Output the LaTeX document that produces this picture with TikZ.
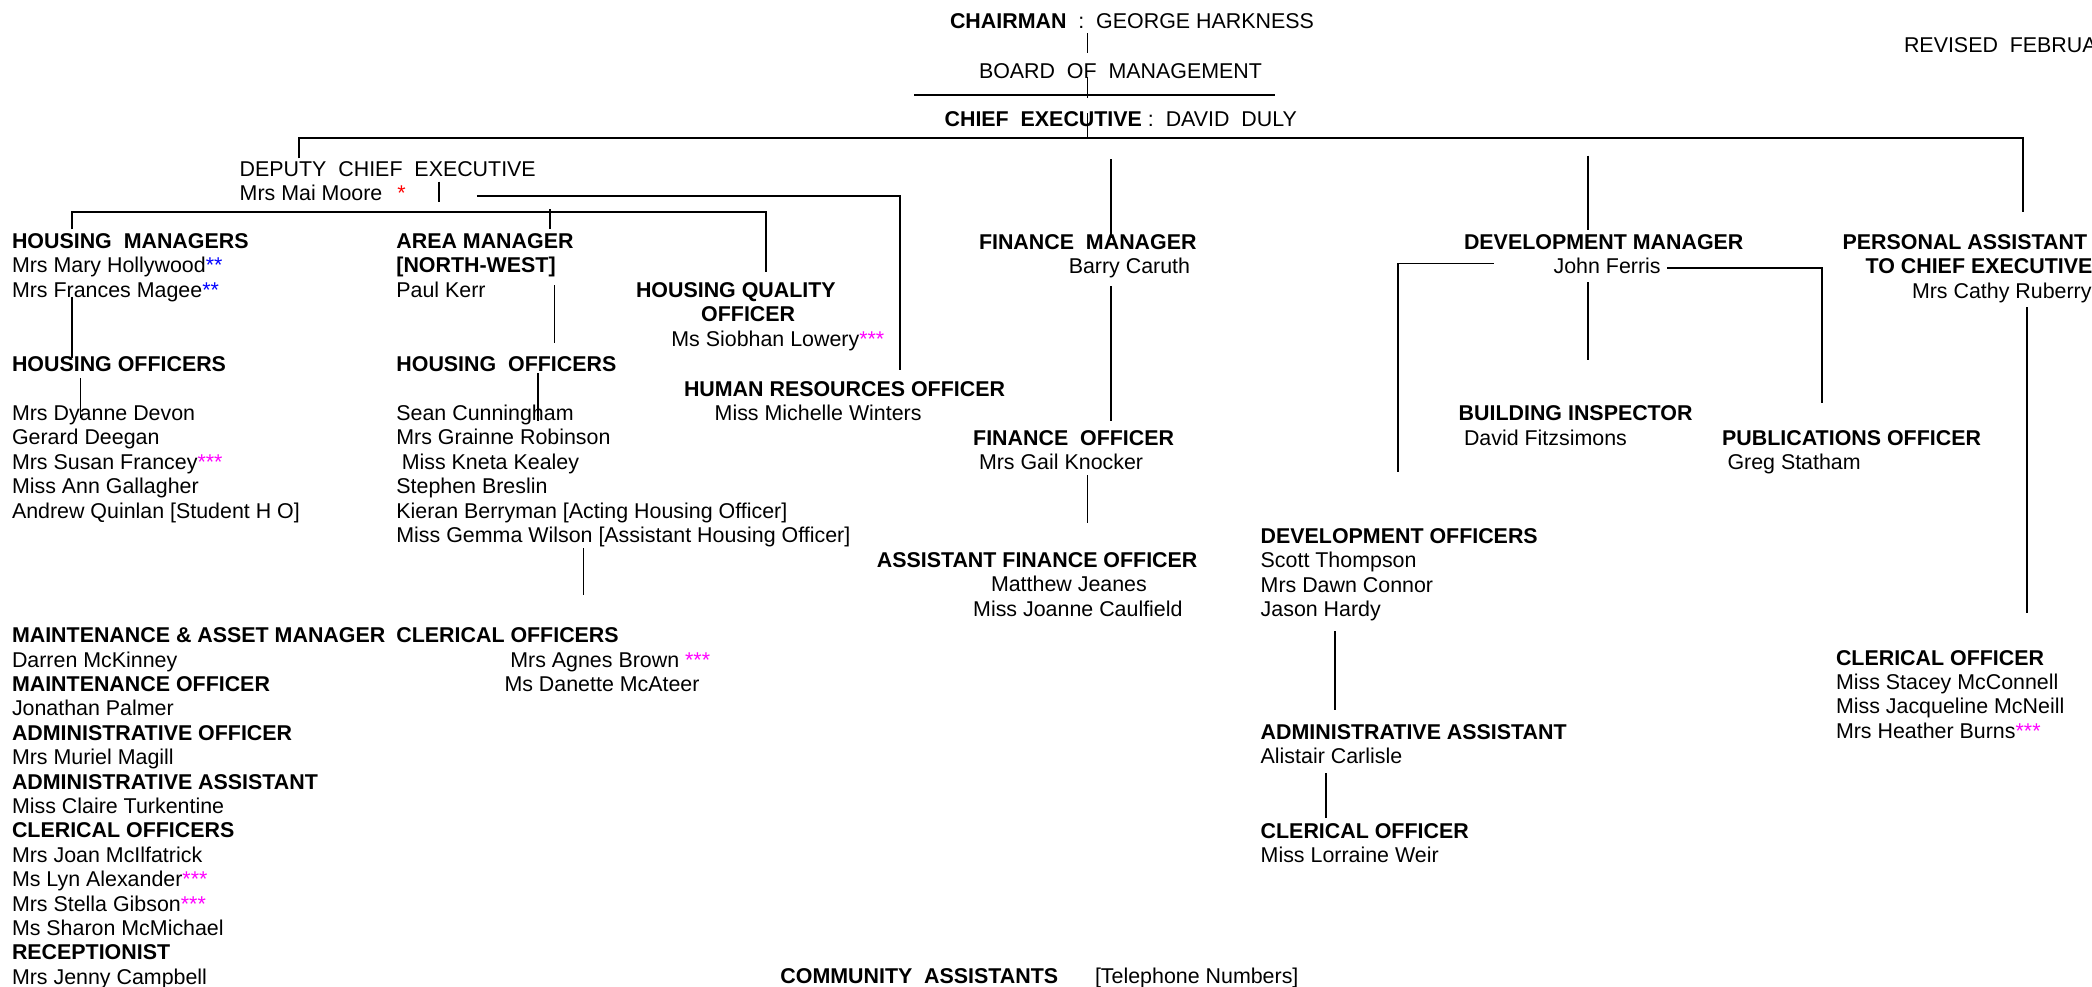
\documentclass[tikz,border=0pt]{standalone}
\usepackage{fontspec}
\setmainfont{Liberation Sans}
\usepackage{xcolor}
\definecolor{starmag}{RGB}{255,0,255}
\definecolor{starblue}{RGB}{0,0,255}
\definecolor{starred}{RGB}{255,0,0}
\newlength\px
\setlength\px{0.5pt}
\newcommand\off[1]{\hspace*{#1\px}}
\newcommand\blk[1]{\begin{tabular}[t]{@{}l@{}}#1\end{tabular}}
\newcommand\mstar[1]{{\color{starmag}#1}}
\tikzset{
  lbl/.style={anchor=base west, inner sep=0pt, outer sep=0pt, font=\fontsize{10.7}{12.2}\selectfont},
  ln/.style={line width=0.9pt},
}
\begin{document}
\begin{tikzpicture}[x=0.5pt,y=-0.5pt]
\useasboundingbox[fill=white] (0,0) rectangle (2092,986);

% ---------- text ----------
\node[lbl] (chair) at (950,28.3) {\textbf{CHAIRMAN}\ \ :\ \ GEORGE HARKNESS};
\node[lbl] (board) at (979,78.3) {BOARD\ \ OF\ \ MANAGEMENT};
\node[lbl] (ceo) at (944.6,126) {\textbf{CHIEF\ \ EXECUTIVE} :\ \ DAVID\ \ DULY};
\node[lbl] (revised) at (1904,52.7) {REVISED\ \ FEBRUA};

\node[lbl] (deputy) at (239.7,176) {\blk{DEPUTY\ \ CHIEF\ \ EXECUTIVE\\ Mrs Mai Moore\hspace{15\px}{\color{starred}*}}};

\node[lbl] (hmgr) at (12,248.3) {\blk{\textbf{HOUSING\ \ MANAGERS}\\ Mrs Mary Hollywood{\color{starblue}**}\\ Mrs Frances Magee{\color{starblue}**}}};
\node[lbl] (areamgr) at (396.4,248.3) {\blk{\textbf{AREA MANAGER}\\ \textbf{[NORTH-WEST]}\\ Paul Kerr}};
\node[lbl] (hqo) at (636,297.3) {\blk{\textbf{HOUSING QUALITY}\\ \off{65.2}\textbf{OFFICER}\\ \off{35.4}Ms Siobhan Lowery\mstar{***}}};
\node[lbl] (hro) at (684,396) {\blk{\textbf{HUMAN RESOURCES OFFICER}\\ \off{30.7}Miss Michelle Winters}};

\node[lbl] (finmgr) at (979,249.3) {\blk{\textbf{FINANCE\ \ MANAGER}\\ \off{89.8}Barry Caruth}};
\node[lbl] (finoff) at (973.2,445) {\blk{\textbf{FINANCE\ \ OFFICER}\\ \off{5.8}Mrs Gail Knocker}};
\node[lbl] (afo) at (876.8,567.3) {\blk{\textbf{ASSISTANT FINANCE OFFICER}\\ \off{114.2}Matthew Jeanes\\ \off{96.4}Miss Joanne Caulfield}};

\node[lbl] (devmgr) at (1464,249.3) {\blk{\textbf{DEVELOPMENT MANAGER}\\ \off{89.6}John Ferris}};
\node[lbl] (pa) at (1842.6,249.3) {\blk{\textbf{PERSONAL ASSISTANT}\\ \off{23}\textbf{TO CHIEF EXECUTIVE}\\ \off{69.4}Mrs Cathy Ruberry}};
\node[lbl] (bi) at (1458.7,420.7) {\blk{\textbf{BUILDING INSPECTOR}\\ \off{5.3}David Fitzsimons}};
\node[lbl] (pub) at (1722.2,445) {\blk{\textbf{PUBLICATIONS OFFICER}\\ \off{5.3}Greg Statham}};
\node[lbl] (devoff) at (1260.7,543.3) {\blk{\textbf{DEVELOPMENT OFFICERS}\\ Scott Thompson\\ Mrs Dawn Connor\\ Jason Hardy}};
\node[lbl] (adminasst) at (1260.7,739.3) {\blk{\textbf{ADMINISTRATIVE ASSISTANT}\\ Alistair Carlisle}};
\node[lbl] (devclerk) at (1260.7,838.3) {\blk{\textbf{CLERICAL OFFICER}\\ Miss Lorraine Weir}};
\node[lbl] (paclerk) at (1836,665) {\blk{\textbf{CLERICAL OFFICER}\\ Miss Stacey McConnell\\ Miss Jacqueline McNeill\\ Mrs Heather Burns\mstar{***}}};

\node[lbl] (hoffL) at (12,371.7) {\blk{\textbf{HOUSING OFFICERS}\\ \\ Mrs Dyanne Devon\\ Gerard Deegan\\ Mrs Susan Francey\mstar{***}\\ Miss Ann Gallagher\\ Andrew Quinlan [Student H O]}};
\node[lbl] (hoffR) at (396.4,371.7) {\blk{\textbf{HOUSING\ \ OFFICERS}\\ \\ Sean Cunningham\\ Mrs Grainne Robinson\\ \off{5.4}Miss Kneta Kealey\\ Stephen Breslin\\ Kieran Berryman [Acting Housing Officer]\\ Miss Gemma Wilson [Assistant Housing Officer]}};

\node[lbl] (maint) at (12,642.7) {\blk{\textbf{MAINTENANCE \& ASSET MANAGER}\\ Darren McKinney\\ \textbf{MAINTENANCE OFFICER}\\ Jonathan Palmer\\ \textbf{ADMINISTRATIVE OFFICER}\\ Mrs Muriel Magill\\ \textbf{ADMINISTRATIVE ASSISTANT}\\ Miss Claire Turkentine\\ \textbf{CLERICAL OFFICERS}\\ Mrs Joan McIlfatrick\\ Ms Lyn Alexander\mstar{***}\\ Mrs Stella Gibson\mstar{***}\\ Ms Sharon McMichael\\ \textbf{RECEPTIONIST}\\ Mrs Jenny Campbell}};
\node[lbl] (clerks) at (396.4,642.7) {\blk{\textbf{CLERICAL OFFICERS}\\ \off{113.9}Mrs Agnes Brown \mstar{***}\\ \off{108.1}Ms Danette McAteer}};

\node[lbl] (community) at (780.4,983.3) {\textbf{COMMUNITY\ \ ASSISTANTS}};
\node[lbl] (phone) at (1095,983.3) {[Telephone Numbers]};

% ---------- connector end points ----------
\coordinate (c1a) at (1087.5,33);   \coordinate (c1b) at (1087.5,53);
\coordinate (c2a) at (1087.5,77);   \coordinate (c2b) at (1087.5,98);
\coordinate (c3a) at (914.3,95);    \coordinate (c3b) at (1275,95);
\coordinate (c4a) at (1087.5,113);  \coordinate (c4b) at (1087.5,139);
\coordinate (c5a) at (299,158.3);   \coordinate (c5b) at (299,138.3);
\coordinate (c5c) at (2023,138.3);  \coordinate (c5d) at (2023,212.3);
\coordinate (c6a) at (438.8,181.7); \coordinate (c6b) at (438.8,201.7);
\coordinate (c7a) at (476.8,196);   \coordinate (c7b) at (900,196);   \coordinate (c7c) at (900,370);
\coordinate (c8a) at (72.3,229.3);  \coordinate (c8b) at (72.3,212);  \coordinate (c8c) at (765.7,212); \coordinate (c8d) at (765.7,271.7);
\coordinate (c9a) at (550,209.3);   \coordinate (c9b) at (550,229.3);
\coordinate (c10a) at (72.3,296.7); \coordinate (c10b) at (72.3,358.3);
\coordinate (c11a) at (80.4,378.3); \coordinate (c11b) at (80.4,418.3);
\coordinate (c12a) at (554.5,285);  \coordinate (c12b) at (554.5,343.3);
\coordinate (c13a) at (538,373.3);  \coordinate (c13b) at (538,420.7);
\coordinate (c14a) at (583.5,548.3);\coordinate (c14b) at (583.5,595);
\coordinate (c15a) at (1111.2,159.3);\coordinate (c15b) at (1111.2,238.3);
\coordinate (c16a) at (1111.2,286); \coordinate (c16b) at (1111.2,420.7);
\coordinate (c17a) at (1087.5,475); \coordinate (c17b) at (1087.5,523.3);
\coordinate (c18a) at (1587.6,155.7);\coordinate (c18b) at (1587.6,230);
\coordinate (c19a) at (1587.6,282); \coordinate (c19b) at (1587.6,360);
\coordinate (c20a) at (1493.7,263.5);\coordinate (c20b) at (1398,263.5); \coordinate (c20c) at (1398,471.7);
\coordinate (c21a) at (1667,267.7); \coordinate (c21b) at (1822.2,267.7); \coordinate (c21c) at (1822.2,403);
\coordinate (c23a) at (2026.6,307.3);\coordinate (c23b) at (2026.6,612.7);
\coordinate (c24a) at (1334.8,631); \coordinate (c24b) at (1334.8,710);
\coordinate (c25a) at (1326.3,773.3);\coordinate (c25b) at (1326.3,818.3);

% ---------- connectors ----------
\draw[ln] (c1a) -- (c1b);
\draw[ln] (c2a) -- (c2b);
\draw[ln] (c3a) -- (c3b);
\draw[ln] (c4a) -- (c4b);
\draw[ln] (c5a) -- (c5b) -- (c5c) -- (c5d);
\draw[ln] (c6a) -- (c6b);
\draw[ln] (c7a) -- (c7b) -- (c7c);
\draw[ln] (c8a) -- (c8b) -- (c8c) -- (c8d);
\draw[ln] (c9a) -- (c9b);
\draw[ln] (c10a) -- (c10b);
\draw[ln] (c11a) -- (c11b);
\draw[ln] (c12a) -- (c12b);
\draw[ln] (c13a) -- (c13b);
\draw[ln] (c14a) -- (c14b);
\draw[ln] (c15a) -- (c15b);
\draw[ln] (c16a) -- (c16b);
\draw[ln] (c17a) -- (c17b);
\draw[ln] (c18a) -- (c18b);
\draw[ln] (c19a) -- (c19b);
\draw[ln] (c20a) -- (c20b) -- (c20c);
\draw[ln] (c21a) -- (c21b) -- (c21c);
\draw[ln] (c23a) -- (c23b);
\draw[ln] (c24a) -- (c24b);
\draw[ln] (c25a) -- (c25b);
\end{tikzpicture}
\end{document}
